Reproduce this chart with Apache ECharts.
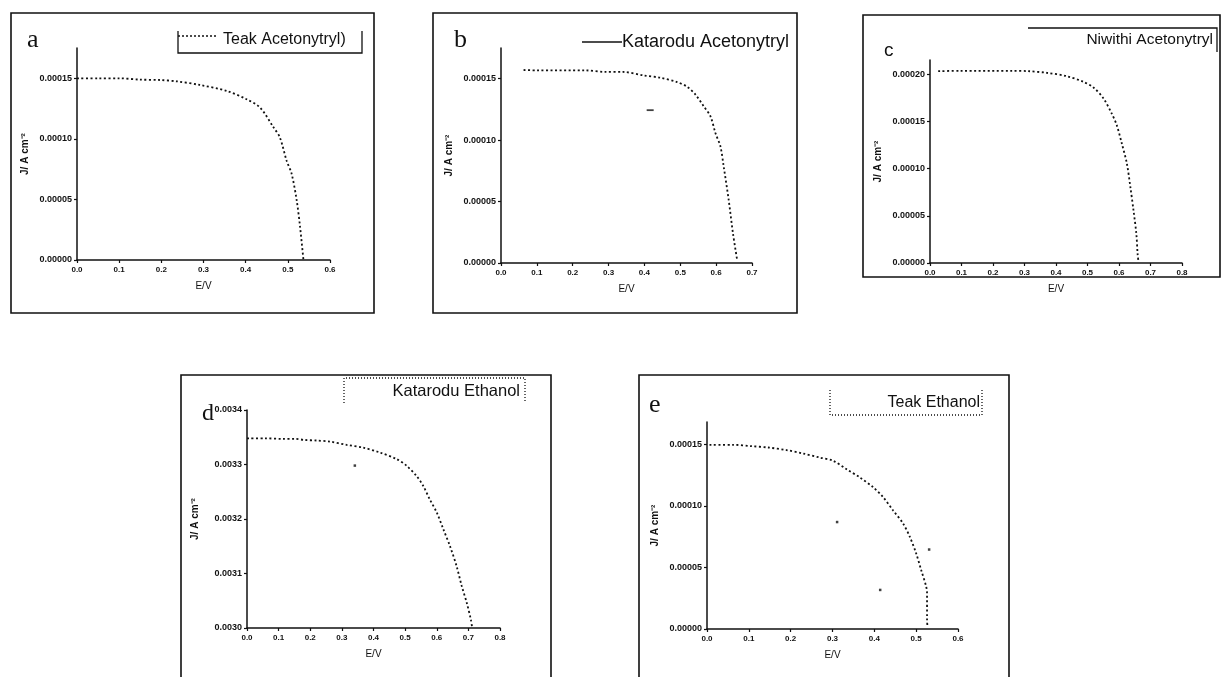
<!DOCTYPE html>
<html>
<head>
<meta charset="utf-8">
<title>J-V curves</title>
<script src="https://cdn.jsdelivr.net/npm/echarts@6/dist/echarts.min.js"></script>
<style>
  html, body { margin: 0; padding: 0; background: #fff; }
  #main { width: 1223px; height: 677px; }
</style>
</head>
<body>
<div id="main"></div>
<script>
// panel a - Teak Acetonytryl
const aE = [0, 0.05, 0.1, 0.149, 0.196, 0.236, 0.291, 0.355, 0.402, 0.434, 0.466, 0.481, 0.497, 0.509, 0.521, 0.529, 0.537];
const aJ = [0.000150, 0.000150, 0.000150, 0.0001489, 0.0001486, 0.0001475, 0.0001445, 0.0001396, 0.0001327, 0.0001259, 0.0001095, 0.0001013, 0.0000821, 0.0000712, 0.0000493, 0.0000274, 0];
// panel b - Katarodu Acetonytryl
const bE = [0.063, 0.1, 0.235, 0.29, 0.34, 0.398, 0.444, 0.491, 0.519, 0.542, 0.565, 0.584, 0.598, 0.612, 0.621, 0.635, 0.647, 0.658];
const bJ = [0.0001571, 0.0001568, 0.0001568, 0.0001555, 0.0001555, 0.0001527, 0.0001508, 0.0001473, 0.0001435, 0.0001372, 0.0001277, 0.0001195, 0.0001058, 0.0000949, 0.0000786, 0.0000513, 0.000024, 0.0000035];
const bStrayE = [0.416];
const bStrayJ = [0.0001244];
// panel c - Niwithi Acetonytryl
const cE = [0.026, 0.095, 0.26, 0.312, 0.371, 0.434, 0.487, 0.519, 0.551, 0.577, 0.593, 0.609, 0.625, 0.636, 0.646, 0.655, 0.659, 0.662];
const cJ = [0.0002032, 0.0002035, 0.0002035, 0.0002032, 0.0002014, 0.0001979, 0.0001919, 0.0001859, 0.0001742, 0.0001583, 0.0001459, 0.0001265, 0.0001053, 0.0000806, 0.0000558, 0.0000311, 0.0000099, 0.000001];
// panel d - Katarodu Ethanol
const dE = [0, 0.057, 0.114, 0.151, 0.183, 0.22, 0.262, 0.315, 0.367, 0.42, 0.473, 0.504, 0.536, 0.557, 0.578, 0.6, 0.621, 0.642, 0.663, 0.679, 0.695, 0.708, 0.712];
const dJ = [0.003348, 0.003348, 0.003347, 0.003347, 0.003345, 0.003344, 0.003342, 0.003336, 0.003331, 0.003322, 0.003310, 0.003298, 0.003279, 0.003261, 0.003236, 0.003212, 0.003181, 0.003150, 0.003113, 0.003077, 0.003046, 0.003015, 0.0030];
const dStrayE = [0.341];
const dStrayJ = [0.003298];
// panel e - Teak Ethanol
const eE = [0.006, 0.062, 0.106, 0.146, 0.19, 0.229, 0.269, 0.301, 0.333, 0.365, 0.397, 0.421, 0.445, 0.469, 0.485, 0.5, 0.512, 0.524, 0.526, 0.526, 0.527];
const eJ = [0.0001495, 0.0001495, 0.0001484, 0.0001473, 0.0001452, 0.0001425, 0.0001392, 0.0001366, 0.0001298, 0.0001231, 0.0001151, 0.000107, 0.0000962, 0.0000855, 0.0000747, 0.0000613, 0.0000478, 0.0000344, 0.000029, 0.0000075, 0.000002];
const eStrayE = [0.311, 0.414, 0.531];
const eStrayJ = [0.0000868, 0.0000317, 0.0000645];

// tick values
const yTicks15 = [0, 0.00005, 0.0001, 0.00015];
const yTicks20 = [0, 0.00005, 0.0001, 0.00015, 0.0002];
const yTicksD = [0.0030, 0.0031, 0.0032, 0.0033, 0.0034];

const names = ['Teak Acetonytryl)', 'Katarodu Acetonytryl', 'Niwithi Acetonytryl', 'Katarodu Ethanol', 'Teak Ethanol'];
const letters = ['a', 'b', 'c', 'd', 'e'];

const zip = (xs, ys) => xs.map((x, i) => [x, ys[i]]);

const panels = [
  { E: aE, J: aJ, grid: { left: 77, top: 48, width: 253, height: 212 }, xMax: 0.6, yMin: 0, yMax: 0.000175, yTicks: yTicks15, digits: 5 },
  { E: bE, J: bJ, sE: bStrayE, sJ: bStrayJ, grid: { left: 501, top: 48, width: 251, height: 215 }, xMax: 0.7, yMin: 0, yMax: 0.000175, yTicks: yTicks15, digits: 5 },
  { E: cE, J: cJ, grid: { left: 930, top: 60, width: 252, height: 203 }, xMax: 0.8, yMin: 0, yMax: 0.000215, yTicks: yTicks20, digits: 5 },
  { E: dE, J: dJ, sE: dStrayE, sJ: dStrayJ, grid: { left: 247, top: 410, width: 253, height: 218 }, xMax: 0.8, yMin: 0.0030, yMax: 0.0034, yTicks: yTicksD, digits: 4 },
  { E: eE, J: eJ, sE: eStrayE, sJ: eStrayJ, grid: { left: 707, top: 422, width: 251, height: 207 }, xMax: 0.6, yMin: 0, yMax: 0.000168, yTicks: yTicks15, digits: 5 }
];

const ink = '#111';
const font = 'Liberation Sans';

const grid = [], xAxis = [], yAxis = [], series = [];
panels.forEach((p, i) => {
  grid.push(p.grid);
  xAxis.push({
    type: 'value', gridIndex: i, min: 0, max: p.xMax, interval: 0.1,
    name: 'E/V', nameLocation: 'middle', nameGap: 21,
    nameTextStyle: { fontSize: 10, color: ink, fontFamily: font },
    axisLine: { lineStyle: { color: ink, width: 1.5 } },
    axisTick: { inside: false, length: 3, lineStyle: { color: ink, width: 1.2 } },
    axisLabel: { margin: 6, fontSize: 8, fontWeight: 'bold', color: ink, fontFamily: font, formatter: v => v.toFixed(1) },
    splitLine: { show: false }
  });
  yAxis.push({
    type: 'value', gridIndex: i, min: p.yMin, max: p.yMax,
    name: 'J/ A cm\u207B\u00B2', nameLocation: 'middle', nameGap: 47, nameRotate: 90,
    nameTextStyle: { fontSize: 10, fontWeight: 'bold', color: ink, fontFamily: font },
    axisLine: { show: true, lineStyle: { color: ink, width: 1.5 } },
    axisTick: { show: true, length: 3, customValues: p.yTicks, lineStyle: { color: ink, width: 1.2 } },
    axisLabel: { margin: 5, fontSize: 9, fontWeight: 'bold', color: ink, fontFamily: font, customValues: p.yTicks, formatter: v => v.toFixed(p.digits) },
    splitLine: { show: false }
  });
  series.push({
    type: 'line', xAxisIndex: i, yAxisIndex: i, data: zip(p.E, p.J),
    showSymbol: false, smooth: 0.3, animation: false,
    lineStyle: { color: ink, width: 1.8, type: [2, 2.5] }
  });
  if (p.sE) {
    series.push({
      type: 'scatter', xAxisIndex: i, yAxisIndex: i, data: zip(p.sE, p.sJ),
      symbol: 'rect', symbolSize: i === 1 ? [7, 1.8] : 2.5, animation: false,
      itemStyle: { color: ink }
    });
  }
});

const box = (x, y, w, h) => ({ type: 'rect', shape: { x, y, width: w, height: h }, style: { fill: null, stroke: ink, lineWidth: 1.6 } });
const line = (pts, dash) => ({ type: 'polyline', shape: { points: pts }, style: { stroke: ink, lineWidth: 1.3, lineDash: dash || null, fill: null } });
const txt = (x, y, s, size, family, align) => ({ type: 'text', x, y, style: { text: s, fontSize: size, fontFamily: family || font, fill: ink, align: align || 'left', verticalAlign: 'middle' } });

const graphic = [
  // panel frames
  box(11, 13, 363, 300),
  box(433, 13, 364, 300),
  box(863, 15, 357, 262),
  box(181, 375, 370, 320),
  box(639, 375, 370, 320),
  // panel letters
  txt(27, 40, letters[0], 26, 'Liberation Serif'),
  txt(454, 40, letters[1], 26, 'Liberation Serif'),
  txt(884, 51, letters[2], 19),
  txt(202, 414, letters[3], 24, 'Liberation Serif'),
  txt(649, 405, letters[4], 26, 'Liberation Serif'),
  // legend a
  line([[178, 31], [178, 53], [362, 53], [362, 31]]),
  line([[178, 36], [218, 36]], [2, 2]),
  txt(223, 40, names[0], 16),
  // legend b
  line([[582, 42], [622, 42]]),
  txt(622, 42, names[1], 18),
  // legend c
  line([[1028, 28], [1217, 28], [1217, 52]]),
  txt(1213, 40, names[2], 15.5, font, 'right'),
  // legend d
  line([[344, 403], [344, 378], [525, 378], [525, 403]], [1, 2]),
  txt(520, 391, names[3], 16.5, font, 'right'),
  // legend e
  line([[830, 390], [830, 415], [982, 415], [982, 390]], [1, 2]),
  txt(980, 403, names[4], 16, font, 'right')
];

const chart = echarts.init(document.getElementById('main'));
chart.setOption({
  animation: false,
  backgroundColor: '#fff',
  grid, xAxis, yAxis, series, graphic
});
</script>
</body>
</html>
